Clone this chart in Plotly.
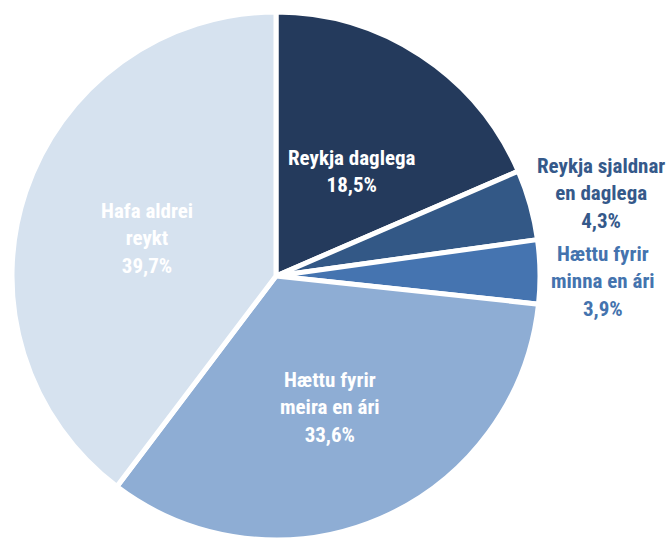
import math
import plotly.graph_objects as go

categories = ["Reykja daglega", "Reykja sjaldnar en daglega", "Hættu fyrir minna en ári",
              "Hættu fyrir meira en ári", "Hafa aldrei reykt"]
label_lines = ["Reykja daglega", "Reykja sjaldnar<br>en daglega", "Hættu fyrir<br>minna en ári",
               "Hættu fyrir<br>meira en ári", "Hafa aldrei<br>reykt"]
values = [18.5, 4.3, 3.9, 33.6, 39.7]
colors = ["#243a5c", "#335886", "#4574b0", "#8eadd4", "#d6e2ef"]
text_colors = ["#ffffff", "#35598a", "#4473ae", "#ffffff", "#ffffff"]
# label placement style: distance from centre (fraction of radius) and small angle nudge (deg)
label_dist = [0.49, 1.27, 1.24, 0.54, 0.51]
label_nudge = [2.5, 1.5, 1.8, 1.0, -2.4]

W, H = 668, 540
cx, cy, r = 276, 276, 264
FONT = "Liberation Sans Narrow, Arial Narrow, Roboto Condensed, Liberation Sans, sans-serif"

fig = go.Figure(go.Pie(
    labels=categories,
    values=values,
    textinfo="none",
    sort=False,
    direction="clockwise",
    rotation=0,
    marker=dict(colors=colors, line=dict(color="white", width=5)),
    domain=dict(x=[(cx - r) / W, (cx + r) / W], y=[(H - cy - r) / H, (H - cy + r) / H]),
    hoverinfo="skip",
    automargin=False,
))

total = sum(values)
cum = 0.0
annotations = []
for lab, v, col, d, nud in zip(label_lines, values, text_colors, label_dist, label_nudge):
    mid = (cum + v / 2) / total * 360 + nud
    cum += v
    a = math.radians(mid)
    px = cx + d * r * math.sin(a)
    py = cy - d * r * math.cos(a)
    annotations.append(dict(
        x=px / W, y=1 - py / H, xref="paper", yref="paper",
        xanchor="center", yanchor="middle", showarrow=False,
        text=f"{lab}<br>{str(v).replace('.', ',')}%",
        font=dict(family=FONT, size=21, color=col, weight="bold"),
        align="center",
    ))

fig.update_layout(
    width=W, height=H,
    margin=dict(l=0, r=0, t=0, b=0),
    paper_bgcolor="white",
    plot_bgcolor="white",
    showlegend=False,
    annotations=annotations,
)

fig.write_html("out.html", config={"displayModeBar": False},
               post_script="document.body.style.margin='0';document.body.style.overflow='hidden';")
